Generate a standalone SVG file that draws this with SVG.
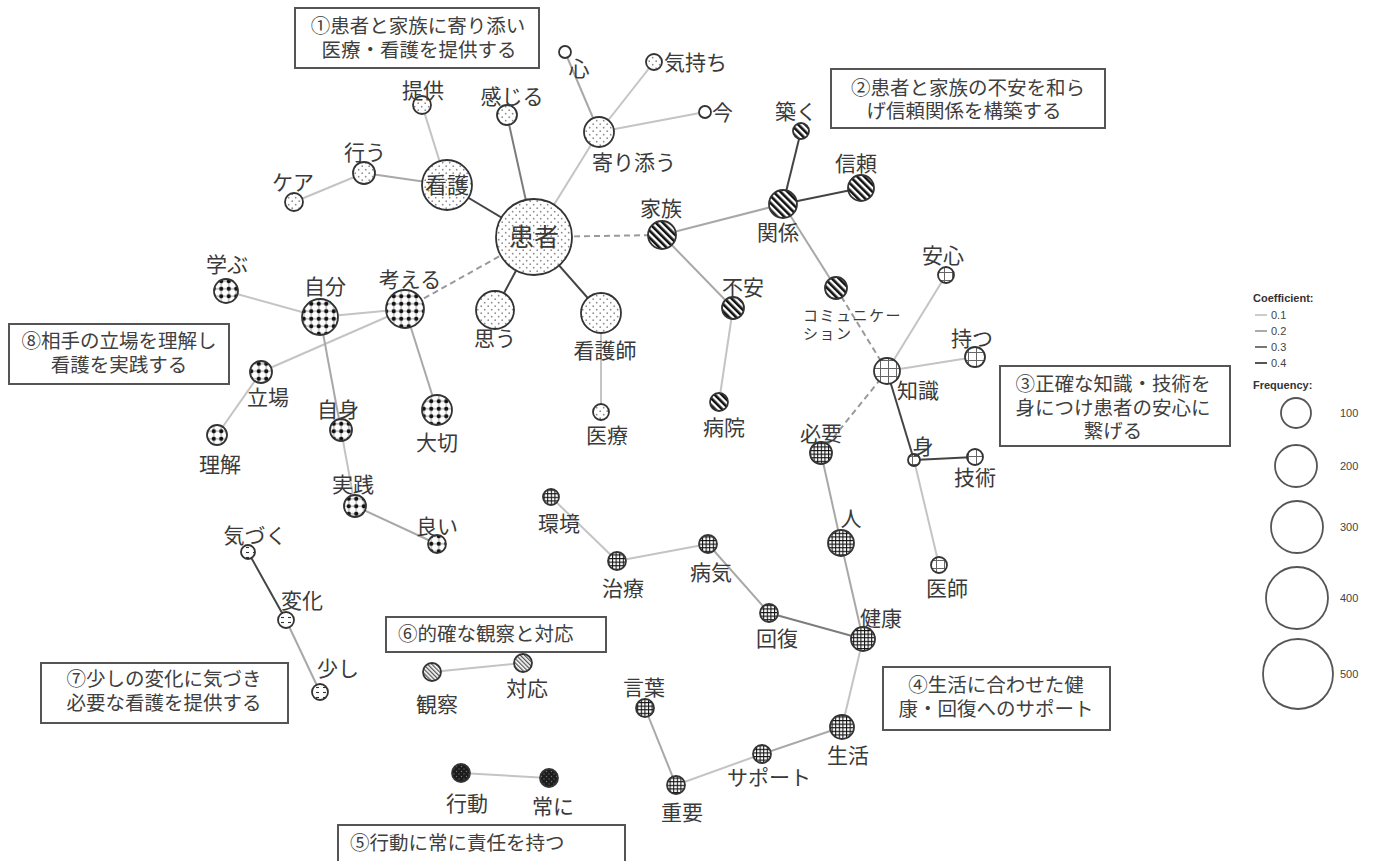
<svg xmlns="http://www.w3.org/2000/svg" width="1383" height="861" viewBox="0 0 1383 861">
<style>
.lbl{font-family:"Noto Sans CJK JP","Noto Sans CJK SC",sans-serif;font-size:21px;fill:#3a3a3a;text-anchor:middle}
.st{text-anchor:start}
.box rect{fill:#fff;stroke:#555;stroke-width:2}
.box text{font-family:"Noto Sans CJK JP","Noto Sans CJK SC",sans-serif;font-size:19.5px;fill:#404040;text-anchor:middle}
.nd{stroke:#333;stroke-width:1.8}
.e1{stroke:#c4c4c4;stroke-width:2;fill:none}
.e2{stroke:#a8a8a8;stroke-width:2;fill:none}
.e3{stroke:#7c7c7c;stroke-width:2;fill:none}
.e4{stroke:#444;stroke-width:2;fill:none}
.ed{stroke:#9a9a9a;stroke-width:2;stroke-dasharray:6 4;fill:none}
.leg{font-family:"Liberation Sans",Arial,sans-serif;font-size:11px;fill:#444}
.legb{font-family:"Liberation Sans",Arial,sans-serif;font-size:11px;font-weight:bold;fill:#333}
.lc{fill:none;stroke:#555;stroke-width:1.8}
</style>
<defs>
<pattern id="pDots" width="7" height="7" patternUnits="userSpaceOnUse">
<rect width="7" height="7" fill="#fff"/>
<circle cx="1.7" cy="1.7" r="0.85" fill="#8a8a8a"/>
<circle cx="5.2" cy="5.2" r="0.85" fill="#8a8a8a"/>
</pattern>
<pattern id="pStripe" width="5" height="5" patternUnits="userSpaceOnUse" patternTransform="rotate(-45)">
<rect width="5" height="5" fill="#fff"/>
<rect width="2.6" height="5" fill="#111"/>
</pattern>
<pattern id="pBall" width="7.5" height="7.5" patternUnits="userSpaceOnUse">
<rect width="7.5" height="7.5" fill="#fff"/>
<path d="M3.75 0V7.5M0 3.75H7.5" stroke="#333" stroke-width="0.5"/>
<circle cx="3.75" cy="3.75" r="2.1" fill="#111"/>
</pattern>
<pattern id="pBig" width="8" height="8" patternUnits="userSpaceOnUse">
<rect width="8" height="8" fill="#fff"/>
<path d="M0 0.5H8M0.5 0V8" stroke="#666" stroke-width="1"/>
</pattern>
<pattern id="pGrid" width="3.6" height="3.6" patternUnits="userSpaceOnUse">
<rect width="3.6" height="3.6" fill="#fff"/>
<path d="M0 0.5H3.6M0.5 0V3.6" stroke="#111" stroke-width="1.1"/>
</pattern>
<pattern id="pHatch" width="3" height="3" patternUnits="userSpaceOnUse" patternTransform="rotate(-45)">
<rect width="3" height="3" fill="#fff"/>
<rect width="1.3" height="3" fill="#555"/>
</pattern>
<pattern id="pDash" width="7" height="5" patternUnits="userSpaceOnUse">
<rect width="7" height="5" fill="#fff"/>
<path d="M1 2.5H4" stroke="#333" stroke-width="1.1"/>
</pattern>
<pattern id="pDark" width="5" height="5" patternUnits="userSpaceOnUse">
<rect width="5" height="5" fill="#1c1c1c"/>
<circle cx="1.5" cy="1.5" r="0.7" fill="#777"/>
<circle cx="4" cy="4" r="0.7" fill="#666"/>
</pattern>
</defs>
<rect width="1383" height="861" fill="#fff"/>

<g id="connectors">
<line class="e4" x1="534" y1="237" x2="447" y2="185"/>
<line class="e1" x1="447" y1="185" x2="422" y2="105"/>
<line class="e2" x1="447" y1="185" x2="364" y2="173"/>
<line class="e1" x1="364" y1="173" x2="294" y2="202"/>
<line class="e3" x1="534" y1="237" x2="507" y2="115"/>
<line class="e1" x1="534" y1="237" x2="599" y2="132"/>
<line class="e2" x1="599" y1="132" x2="565" y2="52"/>
<line class="e1" x1="599" y1="132" x2="654" y2="62"/>
<line class="e1" x1="599" y1="132" x2="705" y2="112"/>
<line class="e4" x1="534" y1="237" x2="495" y2="310"/>
<line class="e4" x1="534" y1="237" x2="601" y2="313"/>
<line class="e1" x1="601" y1="313" x2="601" y2="412"/>
<line class="ed" x1="534" y1="237" x2="662" y2="235"/>
<line class="ed" x1="534" y1="237" x2="405" y2="309"/>
<line class="e2" x1="662" y1="235" x2="783" y2="204"/>
<line class="e4" x1="783" y1="204" x2="801" y2="131"/>
<line class="e4" x1="783" y1="204" x2="861" y2="188"/>
<line class="e2" x1="662" y1="235" x2="733" y2="308"/>
<line class="e1" x1="733" y1="308" x2="719" y2="402"/>
<line class="e2" x1="783" y1="204" x2="836" y2="288"/>
<line class="ed" x1="836" y1="288" x2="887" y2="371"/>
<line class="ed" x1="887" y1="371" x2="821" y2="453"/>
<line class="e1" x1="887" y1="371" x2="946" y2="275"/>
<line class="e1" x1="887" y1="371" x2="975" y2="357"/>
<line class="e4" x1="887" y1="371" x2="914" y2="460"/>
<line class="e4" x1="914" y1="460" x2="975" y2="457"/>
<line class="e1" x1="914" y1="460" x2="939" y2="565"/>
<line class="e2" x1="821" y1="453" x2="841" y2="543"/>
<line class="e2" x1="841" y1="543" x2="863" y2="639"/>
<line class="e3" x1="863" y1="639" x2="769" y2="613"/>
<line class="e2" x1="769" y1="613" x2="708" y2="544"/>
<line class="e1" x1="708" y1="544" x2="617" y2="561"/>
<line class="e1" x1="617" y1="561" x2="551" y2="497"/>
<line class="e1" x1="863" y1="639" x2="842" y2="727"/>
<line class="e2" x1="842" y1="727" x2="762" y2="754"/>
<line class="e1" x1="762" y1="754" x2="676" y2="785"/>
<line class="e2" x1="676" y1="785" x2="645" y2="708"/>
<line class="e1" x1="461" y1="773" x2="549" y2="778"/>
<line class="e1" x1="432" y1="672" x2="523" y2="663"/>
<line class="e4" x1="248" y1="552" x2="286" y2="620"/>
<line class="e2" x1="286" y1="620" x2="320" y2="692"/>
<line class="e1" x1="226" y1="291" x2="320" y2="317"/>
<line class="e1" x1="320" y1="317" x2="405" y2="309"/>
<line class="e1" x1="405" y1="309" x2="261" y2="372"/>
<line class="e1" x1="261" y1="372" x2="217" y2="435"/>
<line class="e2" x1="320" y1="317" x2="341" y2="430"/>
<line class="e1" x1="341" y1="430" x2="355" y2="506"/>
<line class="e2" x1="355" y1="506" x2="437" y2="544"/>
<line class="e2" x1="405" y1="309" x2="437" y2="410"/>
</g>

<g id="n-kanja"><circle class="nd" cx="534" cy="237" r="38" fill="url(#pDots)"/><text class="lbl" x="534" y="246" style="font-size:25px">患者</text></g>
<g id="n-kango"><circle class="nd" cx="447" cy="185" r="25" fill="url(#pDots)"/><text class="lbl" x="447" y="193" style="font-size:22px">看護</text></g>
<g id="n-teikyo"><circle class="nd" cx="422" cy="105" r="9" fill="url(#pDots)"/><text class="lbl" x="423" y="98">提供</text></g>
<g id="n-kanjiru"><circle class="nd" cx="507" cy="115" r="10" fill="url(#pDots)"/><text class="lbl" x="512" y="104">感じる</text></g>
<g id="n-okonau"><circle class="nd" cx="364" cy="173" r="11" fill="url(#pDots)"/><text class="lbl" x="365" y="160">行う</text></g>
<g id="n-kea"><circle class="nd" cx="294" cy="202" r="9" fill="url(#pDots)"/><text class="lbl" x="293" y="190">ケア</text></g>
<g id="n-yorisou"><circle class="nd" cx="599" cy="132" r="15" fill="url(#pDots)"/><text class="lbl" x="634" y="170">寄り添う</text></g>
<g id="n-kokoro"><circle class="nd" cx="565" cy="52" r="6" fill="#fff"/><text class="lbl" x="579" y="76">心</text></g>
<g id="n-kimochi"><circle class="nd" cx="654" cy="62" r="8" fill="url(#pDots)"/><text class="lbl st" x="664" y="70">気持ち</text></g>
<g id="n-ima"><circle class="nd" cx="705" cy="112" r="6" fill="#fff"/><text class="lbl st" x="712" y="120">今</text></g>
<g id="n-omou"><circle class="nd" cx="495" cy="310" r="19" fill="url(#pDots)"/><text class="lbl" x="495" y="346">思う</text></g>
<g id="n-kangoshi"><circle class="nd" cx="601" cy="313" r="20" fill="url(#pDots)"/><text class="lbl" x="605" y="358">看護師</text></g>
<g id="n-iryo"><circle class="nd" cx="601" cy="412" r="8" fill="url(#pDots)"/><text class="lbl" x="607" y="443">医療</text></g>

<g id="n-kazoku"><circle class="nd" cx="662" cy="235" r="14" fill="url(#pStripe)"/><text class="lbl" x="661" y="216">家族</text></g>
<g id="n-kankei"><circle class="nd" cx="783" cy="204" r="14" fill="url(#pStripe)"/><text class="lbl" x="778" y="240">関係</text></g>
<g id="n-kizuku"><circle class="nd" cx="801" cy="131" r="8" fill="url(#pStripe)"/><text class="lbl" x="796" y="119">築く</text></g>
<g id="n-shinrai"><circle class="nd" cx="861" cy="188" r="13" fill="url(#pStripe)"/><text class="lbl" x="856" y="171">信頼</text></g>
<g id="n-fuan"><circle class="nd" cx="733" cy="308" r="11" fill="url(#pStripe)"/><text class="lbl" x="743" y="295">不安</text></g>
<g id="n-byoin"><circle class="nd" cx="719" cy="402" r="9" fill="url(#pStripe)"/><text class="lbl" x="724" y="435">病院</text></g>
<g id="n-comm"><circle class="nd" cx="836" cy="288" r="11" fill="url(#pStripe)"/><text class="lbl st" x="803" y="321" style="font-size:15px;letter-spacing:1.5px">コミュニケー<tspan x="803" dy="18">ション</tspan></text></g>

<g id="n-chishiki"><circle class="nd" cx="887" cy="371" r="13" fill="url(#pBig)"/><text class="lbl st" x="897" y="398">知識</text></g>
<g id="n-anshin"><circle class="nd" cx="946" cy="275" r="8" fill="url(#pBig)"/><text class="lbl" x="943" y="263">安心</text></g>
<g id="n-motsu"><circle class="nd" cx="975" cy="357" r="10" fill="url(#pBig)"/><text class="lbl" x="972" y="346">持つ</text></g>
<g id="n-mi"><circle class="nd" cx="914" cy="460" r="6" fill="url(#pBig)"/><text class="lbl" x="923" y="454">身</text></g>
<g id="n-gijutsu"><circle class="nd" cx="975" cy="457" r="8" fill="url(#pBig)"/><text class="lbl" x="975" y="485">技術</text></g>
<g id="n-ishi"><circle class="nd" cx="939" cy="565" r="8" fill="url(#pBig)"/><text class="lbl" x="947" y="596">医師</text></g>

<g id="n-hitsuyo"><circle class="nd" cx="821" cy="453" r="11" fill="url(#pGrid)"/><text class="lbl" x="821" y="441">必要</text></g>
<g id="n-hito"><circle class="nd" cx="841" cy="543" r="13" fill="url(#pGrid)"/><text class="lbl" x="851" y="526">人</text></g>
<g id="n-kenko"><circle class="nd" cx="863" cy="639" r="12" fill="url(#pGrid)"/><text class="lbl" x="881" y="626">健康</text></g>
<g id="n-kaifuku"><circle class="nd" cx="769" cy="613" r="9" fill="url(#pGrid)"/><text class="lbl" x="777" y="646">回復</text></g>
<g id="n-byoki"><circle class="nd" cx="708" cy="544" r="9" fill="url(#pGrid)"/><text class="lbl" x="711" y="580">病気</text></g>
<g id="n-chiryo"><circle class="nd" cx="617" cy="561" r="9" fill="url(#pGrid)"/><text class="lbl" x="623" y="596">治療</text></g>
<g id="n-kankyo"><circle class="nd" cx="551" cy="497" r="8" fill="url(#pGrid)"/><text class="lbl" x="559" y="531">環境</text></g>
<g id="n-kotoba"><circle class="nd" cx="645" cy="708" r="9" fill="url(#pGrid)"/><text class="lbl" x="644" y="695">言葉</text></g>
<g id="n-seikatsu"><circle class="nd" cx="842" cy="727" r="12" fill="url(#pGrid)"/><text class="lbl" x="848" y="763">生活</text></g>
<g id="n-support"><circle class="nd" cx="762" cy="754" r="9" fill="url(#pGrid)"/><text class="lbl" x="769" y="785">サポート</text></g>
<g id="n-juyo"><circle class="nd" cx="676" cy="785" r="9" fill="url(#pGrid)"/><text class="lbl" x="682" y="820">重要</text></g>

<g id="n-kodo"><circle class="nd" cx="461" cy="773" r="9" fill="url(#pDark)"/><text class="lbl" x="467" y="811">行動</text></g>
<g id="n-tsuneni"><circle class="nd" cx="549" cy="778" r="9" fill="url(#pDark)"/><text class="lbl" x="553" y="814">常に</text></g>
<g id="n-kansatsu"><circle class="nd" cx="432" cy="672" r="9" fill="url(#pHatch)"/><text class="lbl" x="437" y="712">観察</text></g>
<g id="n-taio"><circle class="nd" cx="523" cy="663" r="9" fill="url(#pHatch)"/><text class="lbl" x="527" y="696">対応</text></g>

<g id="n-kizuku2"><circle class="nd" cx="248" cy="552" r="7" fill="url(#pDash)"/><text class="lbl" x="255" y="543">気づく</text></g>
<g id="n-henka"><circle class="nd" cx="286" cy="620" r="8" fill="url(#pDash)"/><text class="lbl" x="302" y="608">変化</text></g>
<g id="n-sukoshi"><circle class="nd" cx="320" cy="692" r="8" fill="url(#pDash)"/><text class="lbl" x="338" y="676">少し</text></g>

<g id="n-manabu"><circle class="nd" cx="226" cy="291" r="12" fill="url(#pBall)"/><text class="lbl" x="227" y="272">学ぶ</text></g>
<g id="n-jibun"><circle class="nd" cx="320" cy="317" r="18" fill="url(#pBall)"/><text class="lbl" x="325" y="294">自分</text></g>
<g id="n-kangaeru"><circle class="nd" cx="405" cy="309" r="19" fill="url(#pBall)"/><text class="lbl" x="410" y="287">考える</text></g>
<g id="n-tachiba"><circle class="nd" cx="261" cy="372" r="11" fill="url(#pBall)"/><text class="lbl" x="268" y="405">立場</text></g>
<g id="n-rikai"><circle class="nd" cx="217" cy="435" r="10" fill="url(#pBall)"/><text class="lbl" x="220" y="472">理解</text></g>
<g id="n-jishin"><circle class="nd" cx="341" cy="430" r="11" fill="url(#pBall)"/><text class="lbl" x="338" y="417">自身</text></g>
<g id="n-taisetsu"><circle class="nd" cx="437" cy="410" r="15" fill="url(#pBall)"/><text class="lbl" x="437" y="450">大切</text></g>
<g id="n-jissen"><circle class="nd" cx="355" cy="506" r="11" fill="url(#pBall)"/><text class="lbl" x="353" y="492">実践</text></g>
<g id="n-yoi"><circle class="nd" cx="437" cy="544" r="9" fill="url(#pBall)"/><text class="lbl" x="437" y="534">良い</text></g>

<g id="box1" class="box"><rect x="295" y="8" width="244" height="60"/><text x="418" y="33">①患者と家族に寄り添い<tspan x="419" dy="24">医療・看護を提供する</tspan></text></g>
<g id="box2" class="box"><rect x="831" y="69" width="274" height="59"/><text x="968" y="95">②患者と家族の不安を和ら<tspan x="964" dy="23">げ信頼関係を構築する</tspan></text></g>
<g id="box3" class="box"><rect x="1000" y="366" width="230" height="80"/><text x="1113" y="391">③正確な知識・技術を<tspan x="1113" dy="23.5">身につけ患者の安心に</tspan><tspan x="1113" dy="23.5">繋げる</tspan></text></g>
<g id="box4" class="box"><rect x="883" y="667" width="227" height="63"/><text x="996" y="692">④生活に合わせた健<tspan x="996" dy="24">康・回復へのサポート</tspan></text></g>
<g id="box5" class="box"><rect x="338" y="825" width="287" height="50"/><text x="350" y="850" style="text-anchor:start">⑤行動に常に責任を持つ</text></g>
<g id="box6" class="box"><rect x="386" y="617" width="220" height="35"/><text x="398" y="641" style="text-anchor:start">⑥的確な観察と対応</text></g>
<g id="box7" class="box"><rect x="41" y="663" width="247" height="60"/><text x="164" y="686">⑦少しの変化に気づき<tspan x="164" dy="24">必要な看護を提供する</tspan></text></g>
<g id="box8" class="box"><rect x="9" y="324" width="220" height="60"/><text x="119" y="348">⑧相手の立場を理解し<tspan x="119" dy="24">看護を実践する</tspan></text></g>

<g id="legend">
<text class="legb" x="1253" y="302">Coefficient:</text>
<line x1="1255" y1="315" x2="1267" y2="315" stroke="#ccc" stroke-width="2"/><text class="leg" x="1271" y="319">0.1</text>
<line x1="1255" y1="331" x2="1267" y2="331" stroke="#aaa" stroke-width="2"/><text class="leg" x="1271" y="335">0.2</text>
<line x1="1255" y1="347" x2="1267" y2="347" stroke="#777" stroke-width="2"/><text class="leg" x="1271" y="351">0.3</text>
<line x1="1255" y1="363" x2="1267" y2="363" stroke="#555" stroke-width="2"/><text class="leg" x="1271" y="367">0.4</text>
<text class="legb" x="1253" y="389">Frequency:</text>
<circle class="lc" cx="1296" cy="413" r="15"/><text class="leg" x="1340" y="417">100</text>
<circle class="lc" cx="1296" cy="466" r="21"/><text class="leg" x="1340" y="470">200</text>
<circle class="lc" cx="1297" cy="527" r="26"/><text class="leg" x="1340" y="531">300</text>
<circle class="lc" cx="1297" cy="598" r="31"/><text class="leg" x="1340" y="602">400</text>
<circle class="lc" cx="1298" cy="674" r="35"/><text class="leg" x="1340" y="678">500</text>
</g>
</svg>
